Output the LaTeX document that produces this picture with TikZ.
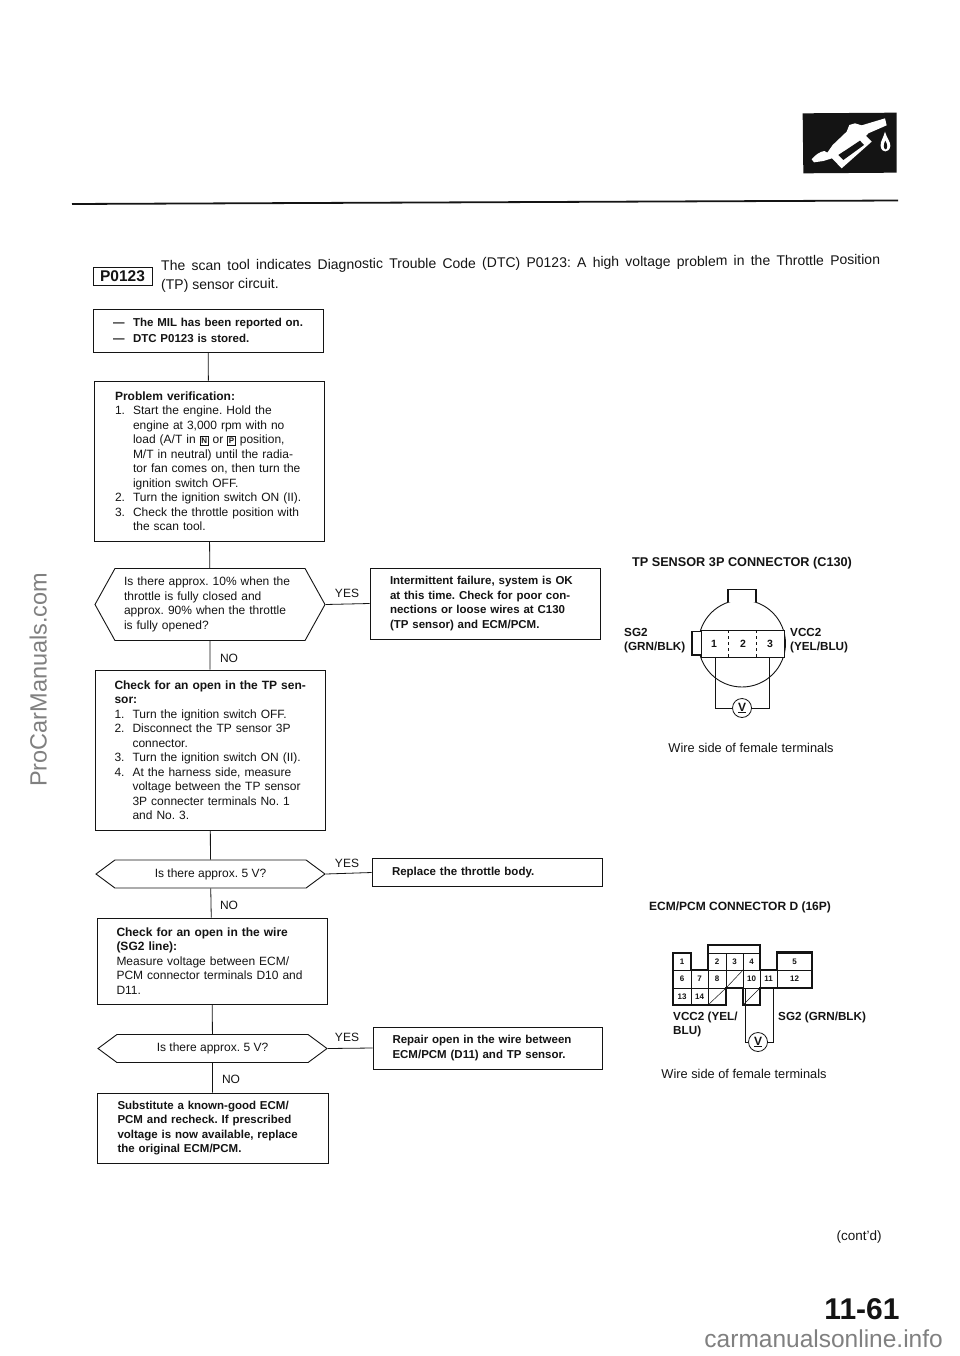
\documentclass[tikz,border=0pt]{standalone}
\usepackage{fontspec}
\setmainfont{Liberation Sans}
\usetikzlibrary{shapes.symbols}
\definecolor{ink}{gray}{0.08}
\newcommand{\js}[2]{\makebox[#1pt][s]{#2}}
\newcommand{\stepn}[3]{\makebox[18pt][l]{#1}\makebox[#2pt][s]{#3}}
\newcommand{\stepf}[2]{\makebox[18pt][l]{#1}#2}
\newcommand{\ind}{\hspace*{18pt}}
\newcommand{\keybox}[1]{{\fboxsep=1pt\fboxrule=0.6pt\fbox{\fontsize{8}{8}\selectfont\bfseries #1}}}
\tikzset{
  flowbox/.style={draw=ink,line width=0.9pt,rectangle,inner sep=0pt,align=left,text=ink,font=\fontsize{12}{14.5}\selectfont},
  hexbox/.style={draw=ink,line width=0.9pt,shape=signal,signal to=west and east,inner sep=0pt,align=left,text=ink,font=\fontsize{12}{14.5}\selectfont},
  flowline/.style={draw=ink,line width=0.8pt},
  answer/.style={text=ink,inner sep=0pt,font=\fontsize{12}{14}\selectfont},
  caption/.style={text=ink,inner sep=0pt,font=\fontsize{12.8}{14}\selectfont},
  boldcap/.style={text=ink,inner sep=0pt,font=\fontsize{11.7}{14}\selectfont\bfseries,align=left},
  pinno/.style={text=ink,inner sep=0pt,font=\fontsize{10.5}{11}\selectfont\bfseries},
  cell/.style={draw=ink,line width=0.5pt,rectangle,inner sep=0pt,text=ink,font=\fontsize{8}{9}\selectfont\bfseries},
  meter/.style={draw=ink,line width=0.8pt,circle,inner sep=0pt,minimum size=19pt,fill=white,text=ink,font=\fontsize{12}{12}\selectfont\bfseries},
  outline/.style={draw=ink,line width=1.1pt},
  wire/.style={draw=ink,line width=0.8pt},
  mark gray/.style={text=black!50,inner sep=0pt}
}
\newcommand{\cell}[6]{\node[cell,minimum width={#4-#2},minimum height={#5-#3}] (#1) at ({(#2+#4)/2},{(#3+#5)/2}) {#6};}
\begin{document}
\frenchspacing
\begin{tikzpicture}[x=1pt,y=-1pt]
\useasboundingbox (0,0) rectangle (960,1356);
\fill[white] (0,0) rectangle (960,1356);

% watermarks
\node[mark gray,rotate=90,anchor=south west,font=\fontsize{23.5}{25}\selectfont] (wm1) at (47,787) {ProCarManuals.com};
\node[mark gray,anchor=base east,font=\fontsize{24.5}{26}\selectfont] (wm2) at (943,1347) {carmanualsonline.info};

% top rule and pump icon
\coordinate (ruleL) at (72,204);
\coordinate (ruleR) at (898,200.5);
\draw[ink,line width=1.8pt] (ruleL) -- (ruleR);
\begin{scope}[shift={(790,100)},x=0.3333pt,y=-0.3333pt]
\fill[ink] (38,40) -- (320,38) -- (320,218) -- (40,220) -- cycle;
\fill[white] (65,178) .. controls (75,165) and (90,155) .. (103,153) -- (112,158) -- (128,135) -- (170,95) -- (178,75) -- (195,70) -- (215,76) -- (285,55) -- (290,76) -- (235,100) -- (228,108) -- (245,125) -- (155,205) -- (126,175) -- (100,183) -- (72,187) -- cycle;
\fill[ink] (145,165) -- (210,122) -- (222,135) -- (160,180) -- cycle;
\fill[white] (285,95) .. controls (280,115) and (270,125) .. (272,138) .. controls (274,160) and (298,160) .. (301,138) .. controls (302,125) and (290,115) .. (285,95) -- cycle;
\fill[ink] (286,122) .. controls (280,132) and (280,148) .. (287,148) .. controls (293,148) and (293,132) .. (286,122) -- cycle;
\end{scope}

% heading
\node[draw=ink,line width=0.9pt,inner sep=0pt,minimum width=59pt,minimum height=18pt,text=ink,font=\fontsize{15.5}{16}\selectfont\bfseries] (code) at (122.5,276) {P0123};
\node[anchor=west,rotate=0.48,inner sep=0pt,text=ink,font=\fontsize{14}{14}\selectfont] (head1) at (161,267) {\js{719}{The scan tool indicates Diagnostic Trouble Code (DTC) P0123: A high voltage problem in the Throttle Position}};
\node[anchor=west,rotate=0.48,inner sep=0pt,text=ink,font=\fontsize{14}{14}\selectfont] (head2) at (161,286) {(TP) sensor circuit.};

% left column
\node[flowbox,minimum width=230pt,minimum height=43pt,text width=190pt,font=\fontsize{11.5}{15.5}\selectfont\bfseries] (b1) at (208,330.5) {\makebox[20pt][l]{---}The MIL has been reported on.\\\makebox[20pt][l]{---}DTC P0123 is stored.};

\node[flowbox,minimum width=230pt,minimum height=160pt,text width=188pt] (b2) at (209,461) {{\bfseries Problem verification:}\\
\stepn{1.}{170}{Start the engine. Hold the}\\
\ind\js{170}{engine at 3,000 rpm with no}\\
\ind\js{170}{load (A/T in \keybox{N} or \keybox{P} position,}\\
\ind\js{170}{M/T in neutral) until the radia-}\\
\ind\js{170}{tor fan comes on, then turn the}\\
\ind ignition switch OFF.\\
\stepf{2.}{Turn the ignition switch ON (II).}\\
\stepn{3.}{170}{Check the throttle position with}\\
\ind the scan tool.};

\node[hexbox,minimum width=230pt,minimum height=72pt,signal pointer angle=122,text width=172pt] (h1) at (210,604.5) {Is there approx. 10\% when the\\throttle is fully closed and\\approx. 90\% when the throttle\\is fully opened?};

\node[flowbox,minimum width=230pt,minimum height=160pt,text width=191pt] (b3) at (210,750) {\js{191}{\bfseries Check for an open in the TP sen-}\\
{\bfseries sor:}\\
\stepf{1.}{Turn the ignition switch OFF.}\\
\stepn{2.}{173}{Disconnect the TP sensor 3P}\\
\ind connector.\\
\stepf{3.}{Turn the ignition switch ON (II).}\\
\stepn{4.}{173}{At the harness side, measure}\\
\ind\js{173}{voltage between the TP sensor}\\
\ind\js{173}{3P connecter terminals No. 1}\\
\ind and No. 3.};

\node[hexbox,minimum width=229pt,minimum height=28pt,signal pointer angle=73,align=center] (h2) at (210.5,874) {Is there approx. 5 V?};

\node[flowbox,minimum width=230pt,minimum height=86pt,text width=191pt] (b4) at (212,961) {\js{191}{\bfseries Check for an open in the wire}\\
{\bfseries (SG2 line):}\\
\js{191}{Measure voltage between ECM/}\\
\js{191}{PCM connector terminals D10 and}\\
D11.};

\node[hexbox,minimum width=229pt,minimum height=28pt,signal pointer angle=73,align=center] (h3) at (212.5,1048.5) {Is there approx. 5 V?};

\node[flowbox,minimum width=231pt,minimum height=70pt,text width=190pt,font=\fontsize{11.5}{14.5}\selectfont\bfseries] (b5) at (212.5,1128) {\js{190}{Substitute a known-good ECM/}\\
\js{190}{PCM and recheck. If prescribed}\\
\js{190}{voltage is now available, replace}\\
the original ECM/PCM.};

% right column of results
\node[flowbox,minimum width=230pt,minimum height=71pt,text width=190pt,font=\fontsize{11.5}{14.5}\selectfont\bfseries] (r1) at (485,603.5) {\js{190}{Intermittent failure, system is OK}\\
\js{190}{at this time. Check for poor con-}\\
\js{190}{nections or loose wires at C130}\\
(TP sensor) and ECM/PCM.};
\node[flowbox,minimum width=230pt,minimum height=28pt,text width=190pt,font=\fontsize{11.5}{14.5}\selectfont\bfseries] (r2) at (487,872.5) {Replace the throttle body.};
\node[flowbox,minimum width=229pt,minimum height=42pt,text width=190pt,font=\fontsize{11.5}{14.5}\selectfont\bfseries] (r3) at (487.5,1048) {\js{190}{Repair open in the wire between}\\ECM/PCM (D11) and TP sensor.};

% connectors
\draw[flowline] (b1) -- (b2);
\draw[flowline] (b2) -- (h1);
\draw[flowline] (h1) -- (b3);
\draw[flowline] (b3) -- (h2);
\draw[flowline] (h2) -- (b4);
\draw[flowline] (b4) -- (h3);
\draw[flowline] (h3) -- (b5);
\draw[flowline] (h1.east) -- (r1.west);
\draw[flowline] (h2.east) -- (r2.west);
\draw[flowline] (h3.east) -- (r3.west);

% answers
\node[answer] (yes1) at (347,593) {YES};
\node[answer] (no1) at (229,658) {NO};
\node[answer] (yes2) at (347,863) {YES};
\node[answer] (no2) at (229,905) {NO};
\node[answer] (yes3) at (347,1037) {YES};
\node[answer] (no3) at (231,1079) {NO};

% TP sensor connector
\node[boldcap,font=\fontsize{12.7}{14}\selectfont\bfseries] (tptitle) at (742,563) {TP SENSOR 3P CONNECTOR (C130)};
\node[draw=ink,line width=0.9pt,circle,minimum size=87pt,inner sep=0pt] (tpcirc) at (742,643.5) {};
\draw[outline,fill=white] (728,602) -- (728,589.5) -- (756,589.5) -- (756,602);
\node[draw=ink,line width=0.8pt,rectangle,fill=white,minimum width=83pt,minimum height=27pt,inner sep=0pt] (tprect) at (742.5,643.5) {};
\draw[outline,fill=white] (701,631.5) -- (692,631.5) -- (692,655) -- (701,655);
\draw[ink,line width=0.5pt,dashed] (728,630) -- (728,657);
\draw[ink,line width=0.5pt,dashed] (756,630) -- (756,657);
\node[pinno] (tp1) at (714,644) {1};
\node[pinno] (tp2) at (743,644) {2};
\node[pinno] (tp3) at (770,644) {3};
\node[meter] (vm1) at (742,708) {\underline{V}};
\coordinate (tpw1) at (715,657);
\coordinate (tpw3) at (769,657);
\draw[wire] (tpw1) |- (vm1);
\draw[wire] (tpw3) |- (vm1);
\node[boldcap,anchor=north west] (sg2) at (624,628) {SG2\\(GRN/BLK)};
\node[boldcap,anchor=north west] (vcc2) at (790,628) {VCC2\\(YEL/BLU)};
\node[caption] (cap1) at (751,748) {Wire side of female terminals};

% ECM/PCM connector
\node[boldcap,font=\fontsize{12}{14}\selectfont\bfseries] (dtitle) at (740,907) {ECM/PCM CONNECTOR D (16P)};
\cell{d1}{673}{953}{691}{970}{1}
\cell{d2}{708}{953}{726}{970}{2}
\cell{d3}{726}{953}{743}{970}{3}
\cell{d4}{743}{953}{760}{970}{4}
\cell{d5}{777}{953}{812}{970}{5}
\cell{d6}{673}{970}{691}{988}{6}
\cell{d7}{691}{970}{708}{988}{7}
\cell{d8}{708}{970}{726}{988}{8}
\cell{dx1}{726}{970}{743}{988}{}
\cell{d10}{743}{970}{760}{988}{10}
\cell{d11}{760}{970}{777}{988}{11}
\cell{d12}{777}{970}{812}{988}{12}
\cell{d13}{673}{988}{691}{1005}{13}
\cell{d14}{691}{988}{708}{1005}{14}
\cell{dx2}{708}{988}{726}{1005}{}
\cell{dx3}{743}{988}{760}{1005}{}
\draw[ink,line width=0.5pt] (dx1.south west) -- (dx1.north east);
\draw[ink,line width=0.5pt] (dx2.south west) -- (dx2.north east);
\draw[ink,line width=0.5pt] (dx3.south west) -- (dx3.north east);
\draw[outline] (673,953) -- (691,953) -- (691,970) -- (708,970) -- (708,945) -- (760,945) -- (760,970) -- (777,970) -- (777,952) -- (812,952) -- (812,988) -- (760,988) -- (760,1005) -- (743,1005) -- (743,988) -- (726,988) -- (726,1005) -- (673,1005) -- cycle;
\node[meter] (vm2) at (758,1042) {\underline{V}};
\coordinate (dw1) at (745,988);
\coordinate (dw2) at (773,988);
\draw[wire] (dw1) |- (vm2);
\draw[wire] (dw2) |- (vm2);
\node[boldcap,anchor=north west] (vcc) at (673,1012) {VCC2 (YEL/\\BLU)};
\node[boldcap,anchor=north west] (sg) at (778,1012) {SG2 (GRN/BLK)};
\node[caption] (cap2) at (744,1074) {Wire side of female terminals};

% footer
\node[caption,font=\fontsize{13.5}{14}\selectfont] (contd) at (859,1237) {(cont'd)};
\node[text=ink,inner sep=0pt,font=\fontsize{30}{30}\selectfont\bfseries] (page) at (862,1309) {11-61};
\end{tikzpicture}
\end{document}
